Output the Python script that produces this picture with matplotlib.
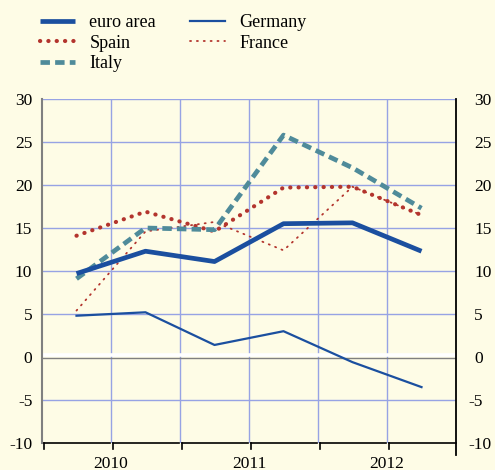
import matplotlib
matplotlib.use("Agg")
import matplotlib.pyplot as plt

periods = [0, 1, 2, 3, 4, 5]
year_labels = ["2010", "2011", "2012"]
euro_area = [9.7, 12.3, 11.1, 15.5, 15.6, 12.3]
spain = [14.1, 16.9, 14.6, 19.7, 19.8, 16.5]
italy = [9.1, 15.0, 14.8, 25.8, 22.0, 17.3]
germany = [4.8, 5.2, 1.4, 3.0, -0.6, -3.5]
france = [5.4, 14.6, 15.7, 12.4, 19.8, 16.5]
yticks = [-10, -5, 0, 5, 10, 15, 20, 25, 30]

BG = "#FEFCE6"
GRID = "#97A3E4"
BLUE = "#1B4F9F"
RED = "#B3342D"
TEAL = "#4F8B9A"
FONT = "Liberation Serif"

plt.rcParams["font.family"] = "serif"
plt.rcParams["font.serif"] = [FONT, "DejaVu Serif"]
plt.rcParams["axes.unicode_minus"] = False

fig = plt.figure(figsize=(4.95, 4.70), dpi=100, facecolor=BG)
ax = fig.add_axes([42/495, 1-443/470, (456-42)/495, (443-99)/470], facecolor=BG)

ax.set_xlim(-0.5, 5.5)
ax.set_ylim(-10, 30)

# grid
for gx in [0.5, 1.5, 2.5, 3.5, 4.5]:
    ax.axvline(gx, color=GRID, lw=1.0, zorder=1)
for gy in yticks:
    if gy not in (0, -10):
        ax.axhline(gy, color=GRID, lw=1.0, zorder=1)
ax.axhline(0.22, color="white", lw=2.6, zorder=1.5)
ax.axhline(-0.15, color="#808080", lw=1.0, zorder=1.6)

h_germany, = ax.plot(periods, germany, color=BLUE, lw=1.6, zorder=3, label="Germany")
h_france, = ax.plot(periods, france, color=RED, lw=1.3, ls=(0, (0.6, 3.2)),
                    dash_capstyle="round", zorder=3, label="France")
h_spain, = ax.plot(periods, spain, color=RED, lw=3.0, ls=(0, (0.05, 1.95)),
                   dash_capstyle="round", zorder=4, label="Spain")
h_italy, = ax.plot(periods, italy, color=TEAL, lw=3.4, ls=(0, (2.0, 1.1)),
                   zorder=4, label="Italy")
h_euro, = ax.plot(periods, euro_area, color=BLUE, lw=3.4, zorder=5,
                  solid_capstyle="butt", label="euro area")

ax.set_yticks(yticks)
ax.tick_params(axis="y", which="both", length=0, labelsize=12.5, pad=7)
ax.set_xticks([0.5, 2.5, 4.5])
ax.set_xticklabels(year_labels)
ax.tick_params(axis="x", length=0, labelsize=12.5, pad=9)

# right-hand labels: digits aligned, minus sign hanging to the left
ytr = ax.get_yaxis_transform()
for v in yticks:
    dx = 8.6 if v < 0 else 13.0
    ax.annotate(str(v), xy=(1, v), xycoords=ytr, xytext=(dx, 0),
                textcoords="offset points", ha="left", va="center_baseline",
                fontsize=12.5, family=FONT, annotation_clip=False)

for s in ["top", "bottom"]:
    ax.spines[s].set_visible(False)
ax.spines["left"].set_color("#808080")
ax.spines["left"].set_linewidth(1.5)
ax.spines["right"].set_color("black")
ax.spines["right"].set_linewidth(1.3)

# bottom axis segments with ticks
tr = ax.get_xaxis_transform()
edges = [-0.5, 0.5, 1.5, 2.5, 3.5, 4.5, 5.5]
for i in range(6):
    x0 = edges[i] + 0.03
    x1 = edges[i+1] - 0.02
    ax.plot([x0, x1], [0, 0], color="black", lw=1.2, transform=tr, clip_on=False, zorder=6)
    ax.plot([x0, x0], [0, -0.017], color="black", lw=1.2, transform=tr, clip_on=False, zorder=6)
ax.plot([5.5, 5.5], [0, -0.035], color="black", lw=1.3, transform=tr, clip_on=False, zorder=6)

handles = [h_euro, h_spain, h_italy, h_germany, h_france]
labels = ["euro area", "Spain", "Italy", "Germany", "France"]
leg = fig.legend(handles, labels, ncol=2, loc="upper left",
                 bbox_to_anchor=(40/495, 1-14/470), frameon=False,
                 prop={"family": FONT, "size": 13}, handlelength=1.95,
                 handletextpad=0.78, columnspacing=1.9, labelspacing=0.2,
                 borderaxespad=0, borderpad=0)

fig.savefig("out.png", dpi=100, facecolor=BG)
